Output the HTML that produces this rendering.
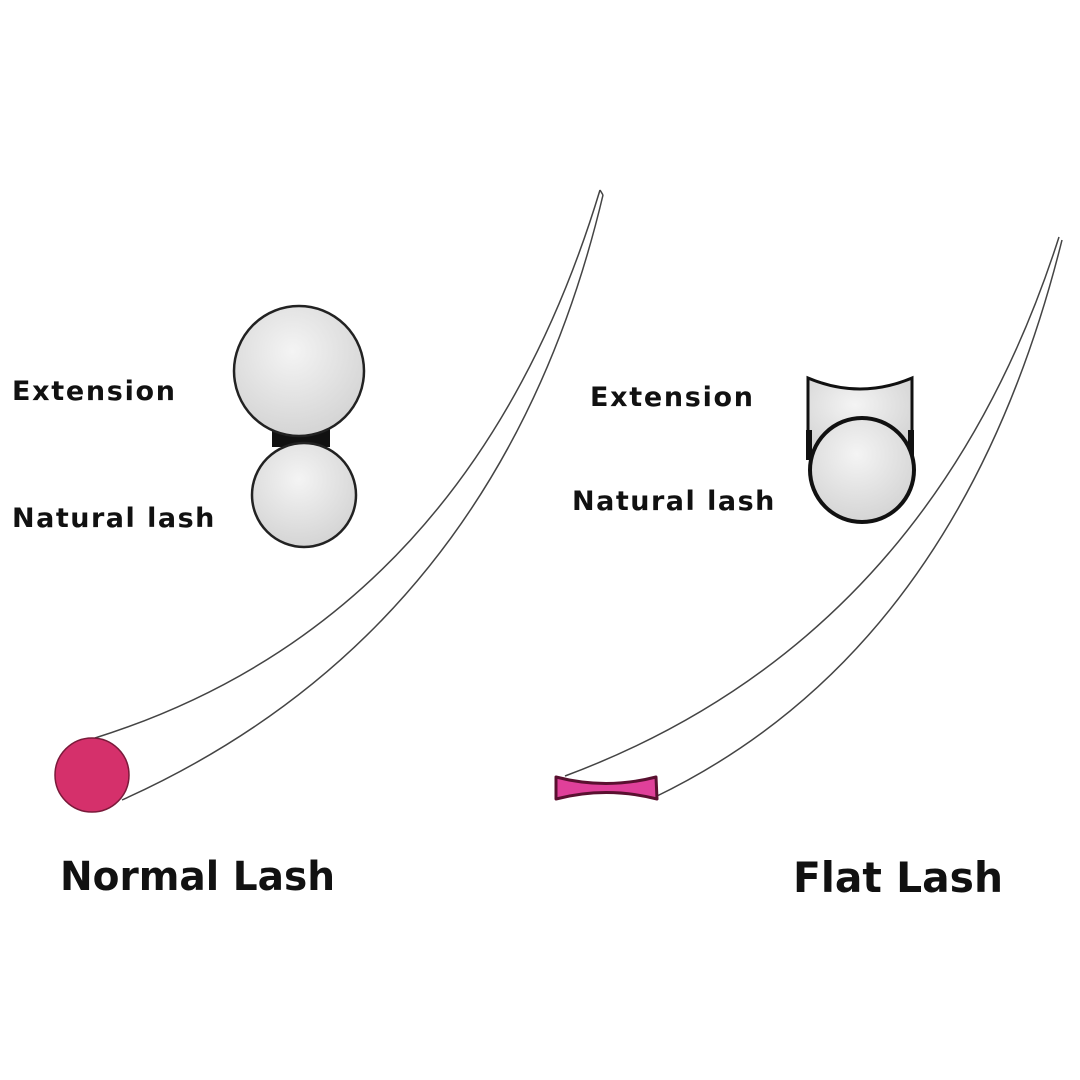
<!DOCTYPE html>
<html><head><meta charset="utf-8"><style>
html,body{margin:0;padding:0;background:#fff}
svg{display:block}
text{font-family:"DejaVu Sans","Liberation Sans",sans-serif;font-weight:bold;fill:#111}
</style></head><body>
<svg width="1080" height="1080" viewBox="0 0 1080 1080">
<defs>
<radialGradient id="g" cx="0.45" cy="0.35" r="0.7">
<stop offset="0" stop-color="#f4f4f4"/><stop offset="1" stop-color="#d2d2d2"/>
</radialGradient>
</defs>
<rect width="1080" height="1080" fill="#fff"/>
<path d="M95,738 Q470,620 600,190" fill="none" stroke="#444" stroke-width="1.5"/>
<path d="M122,800 Q500,630 603,195" fill="none" stroke="#444" stroke-width="1.5"/>
<path d="M600,190 L603,195" stroke="#444" stroke-width="1.5"/>
<circle cx="92" cy="775" r="37" fill="#d5306b" stroke="#7a1a3a" stroke-width="1.5"/>
<path d="M565,776 Q930,640 1059,237" fill="none" stroke="#444" stroke-width="1.5"/>
<path d="M655,797 Q960,650 1062,240" fill="none" stroke="#444" stroke-width="1.5"/>
<path d="M556,777 Q606,790 656,777 L657,799 Q606,786 556,799 Z" fill="#e0409a" stroke="#5a1030" stroke-width="3" stroke-linejoin="round"/>
<rect x="272" y="425" width="58" height="22" fill="#111"/>
<circle cx="299" cy="371" r="65" fill="url(#g)" stroke="#222" stroke-width="2.5"/>
<circle cx="304" cy="495" r="52" fill="url(#g)" stroke="#222" stroke-width="2.5"/>
<path d="M808,378 Q860,400 912,378 L912,455 L808,455 Z" fill="url(#g)" stroke="#111" stroke-width="3"/>
<rect x="806" y="430" width="6" height="30" fill="#111"/>
<rect x="908" y="430" width="6" height="30" fill="#111"/>
<circle cx="862" cy="470" r="52" fill="url(#g)" stroke="#111" stroke-width="4"/>
<text x="12" y="400" font-size="27" letter-spacing="1.7">Extension</text>
<text x="12" y="527" font-size="27" letter-spacing="1.5">Natural lash</text>
<text x="590" y="406" font-size="27" letter-spacing="1.7">Extension</text>
<text x="572" y="510" font-size="27" letter-spacing="1.5">Natural lash</text>
<text x="60" y="890" font-size="40" textLength="275" lengthAdjust="spacingAndGlyphs">Normal Lash</text>
<text x="793" y="892" font-size="42" textLength="210" lengthAdjust="spacingAndGlyphs">Flat Lash</text>
</svg>
</body></html>
